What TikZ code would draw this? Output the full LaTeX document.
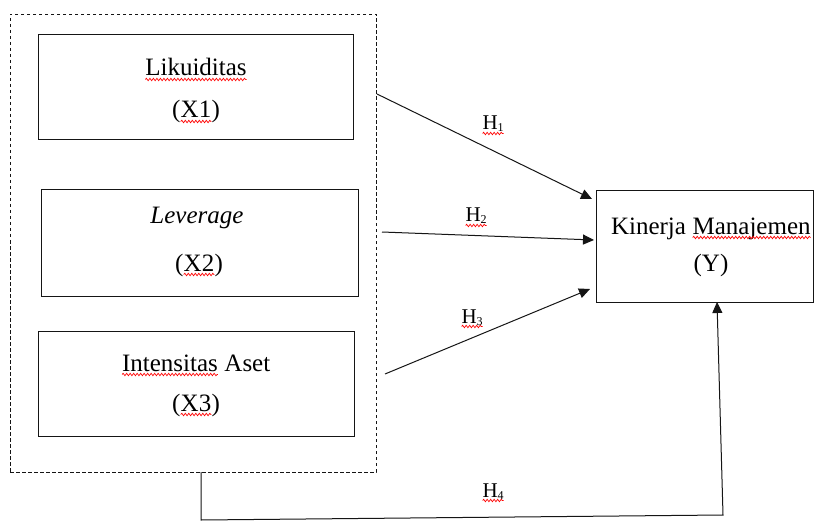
\documentclass[tikz,border=0pt]{standalone}
\usepackage{fontspec}
\setmainfont{Liberation Serif}
\usetikzlibrary{arrows.meta,decorations.pathmorphing}
\newcommand\rwave[1]{\tikz[baseline=(w.base)]{\node[inner sep=0pt,outer sep=0pt,anchor=base,draw=none] (w) {#1};\draw[red, line width=0.7pt, decorate, decoration={snake, amplitude=1.2pt, segment length=3.5pt}] ([yshift=-3.5pt]w.base west) -- ([yshift=-3.5pt]w.base east);}}
\newcommand\hsub[1]{\raisebox{-2pt}{\fontsize{12}{12}\selectfont #1}}
\definecolor{ink}{HTML}{151515}
\tikzset{
  box/.style={draw=ink, line width=1pt, inner sep=0pt},
  grpbox/.style={draw=ink, line width=0.9pt, dash pattern=on 3.5pt off 2.5pt, inner sep=0pt},
  lbl/.style={anchor=base, inner sep=0pt, font=\fontsize{25}{28}\selectfont},
  hlbl/.style={anchor=base west, inner sep=0pt, font=\fontsize{21}{24}\selectfont},
  conn/.style={draw=ink, line width=1pt},
  arr/.style={conn, -{Triangle[length=11pt,width=10pt]}}
}
\begin{document}
\begin{tikzpicture}[x=1pt,y=-1pt]
\useasboundingbox[fill=white] (0,0) rectangle (818,521);
% group box
\node[grpbox, minimum width=366pt, minimum height=458pt] (grp) at (193,243) {};
% boxes
\node[box, minimum width=315pt, minimum height=105pt] (x1) at (195.5,87.5) {};
\node[box, minimum width=317pt, minimum height=106pt] (x2) at (199.5,243) {};
\node[box, minimum width=316pt, minimum height=105pt] (x3) at (196,383.5) {};
\node[box, minimum width=217pt, minimum height=111pt] (y) at (704.5,246.5) {};
% texts
\node[lbl] (x1a) at (196,76) {\rwave{Likuiditas}};
\node[lbl] (x1b) at (196,118) {(\rwave{X1})};
\node[lbl] (x2a) at (197,223) {\textit{Leverage}};
\node[lbl] (x2b) at (199,271) {(\rwave{X2})};
\node[lbl] (x3a) at (196,371) {\rwave{Intensitas} Aset};
\node[lbl] (x3b) at (196,411) {(\rwave{X3})};
\node[lbl] (ya) at (711,234) {Kinerja \rwave{Manajemen}};
\node[lbl] (yb) at (711,271) {(Y)};
% connector end points
\coordinate (h1s) at (377,94);
\coordinate (h1e) at (592,199);
\coordinate (h2s) at (382,232);
\coordinate (h2e) at (594,240);
\coordinate (h3s) at (385,374);
\coordinate (h3e) at (590,289);
\coordinate (h4s) at (201,472);
\coordinate (h4a) at (201,520);
\coordinate (h4b) at (723,515);
\coordinate (h4e) at (717,302);
\draw[arr] (h1s) -- (h1e);
\draw[arr] (h2s) -- (h2e);
\draw[arr] (h3s) -- (h3e);
\draw[arr] (h4s) -- (h4a) -- (h4b) -- (h4e);
% hypothesis labels
\node[hlbl] (l1) at (482,130) {\rwave{H\hsub{1}}};
\node[hlbl] (l2) at (465,222) {\rwave{H\hsub{2}}};
\node[hlbl] (l3) at (461,323) {\rwave{H\hsub{3}}};
\node[hlbl] (l4) at (482,497) {\rwave{H\hsub{4}}};
\end{tikzpicture}
\end{document}
